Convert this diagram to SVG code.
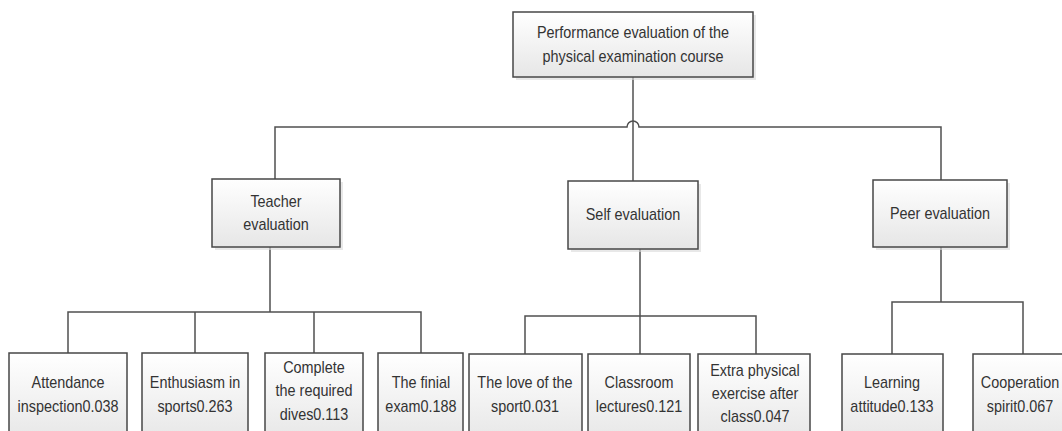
<svg xmlns="http://www.w3.org/2000/svg" width="1062" height="431" viewBox="0 0 1062 431">
<defs>
<linearGradient id="g" x1="0" y1="0" x2="0" y2="1">
<stop offset="0" stop-color="#ffffff"/>
<stop offset="1" stop-color="#e6e6e6"/>
</linearGradient>
<style>
.box{fill:url(#g);stroke:#474747;stroke-width:1.5}
.sh{fill:#d9d9d9;opacity:0.6}
.t{font-family:"Liberation Sans",Arial,sans-serif;font-size:16px;fill:#333;text-anchor:middle}
.c{fill:none;stroke:#505050;stroke-width:1.5}
</style>
</defs>
<rect width="1062" height="431" fill="#fff"/>
<g id="connectors">
<path class="c" d="M633 77 V181"/>
<path class="c" d="M275 179 V127 H627 A6 6 0 0 1 639 127 H941 V180"/>
<path class="c" d="M270 247 V312 M68 353 V312 H421 V353 M195 312 V353 M314 312 V353"/>
<path class="c" d="M640 249 V354 M525 354 V316 H756 V354"/>
<path class="c" d="M941 247 V302 M892 354 V302 H1023 V354"/>
</g>
<g id="root">
<rect class="sh" x="516" y="15" width="240" height="65"/>
<rect class="box" x="513" y="12" width="240" height="65"/>
<text class="t" transform="matrix(0.9 0 0 1 633 38)">Performance evaluation of the</text>
<text class="t" transform="matrix(0.9 0 0 1 633 62)">physical examination course</text>
</g>
<g id="teacher">
<rect class="sh" x="215" y="182" width="128" height="68"/>
<rect class="box" x="212" y="179" width="128" height="68"/>
<text class="t" transform="matrix(0.9 0 0 1 276 207)">Teacher</text>
<text class="t" transform="matrix(0.9 0 0 1 276 230)">evaluation</text>
</g>
<g id="self">
<rect class="sh" x="571" y="184" width="130" height="68"/>
<rect class="box" x="568" y="181" width="130" height="68"/>
<text class="t" transform="matrix(0.9 0 0 1 633 220)">Self evaluation</text>
</g>
<g id="peer">
<rect class="sh" x="876" y="183" width="134" height="67"/>
<rect class="box" x="873" y="180" width="134" height="67"/>
<text class="t" transform="matrix(0.9 0 0 1 940 219)">Peer evaluation</text>
</g>
<g id="attendance">
<rect class="box" x="9" y="353" width="118" height="90"/>
<text class="t" transform="matrix(0.9 0 0 1 68 388)">Attendance</text>
<text class="t" transform="matrix(0.9 0 0 1 68 412)">inspection0.038</text>
</g>
<g id="enthusiasm">
<rect class="box" x="142" y="353" width="106" height="90"/>
<text class="t" transform="matrix(0.9 0 0 1 195 388)">Enthusiasm in</text>
<text class="t" transform="matrix(0.9 0 0 1 195 412)">sports0.263</text>
</g>
<g id="complete">
<rect class="box" x="265" y="353" width="98" height="90"/>
<text class="t" transform="matrix(0.9 0 0 1 314 373)">Complete</text>
<text class="t" transform="matrix(0.9 0 0 1 314 396)">the required</text>
<text class="t" transform="matrix(0.9 0 0 1 314 420)">dives0.113</text>
</g>
<g id="final">
<rect class="box" x="378" y="353" width="85" height="90"/>
<text class="t" transform="matrix(0.9 0 0 1 421 388)">The finial</text>
<text class="t" transform="matrix(0.9 0 0 1 421 412)">exam0.188</text>
</g>
<g id="love">
<rect class="box" x="469" y="354" width="113" height="90"/>
<text class="t" transform="matrix(0.9 0 0 1 525 388)">The love of the</text>
<text class="t" transform="matrix(0.9 0 0 1 525 412)">sport0.031</text>
</g>
<g id="classroom">
<rect class="box" x="588" y="354" width="102" height="90"/>
<text class="t" transform="matrix(0.9 0 0 1 639 388)">Classroom</text>
<text class="t" transform="matrix(0.9 0 0 1 639 412)">lectures0.121</text>
</g>
<g id="extra">
<rect class="box" x="698" y="354" width="112" height="90"/>
<text class="t" transform="matrix(0.9 0 0 1 755 376)">Extra physical</text>
<text class="t" transform="matrix(0.9 0 0 1 755 399)">exercise after</text>
<text class="t" transform="matrix(0.9 0 0 1 755 422)">class0.047</text>
</g>
<g id="learning">
<rect class="box" x="842" y="354" width="101" height="90"/>
<text class="t" transform="matrix(0.9 0 0 1 892 388)">Learning</text>
<text class="t" transform="matrix(0.9 0 0 1 892 412)">attitude0.133</text>
</g>
<g id="cooperation">
<rect class="box" x="973" y="354" width="100" height="90"/>
<text class="t" transform="matrix(0.9 0 0 1 1020 388)">Cooperation</text>
<text class="t" transform="matrix(0.9 0 0 1 1020 412)">spirit0.067</text>
</g>
</svg>
